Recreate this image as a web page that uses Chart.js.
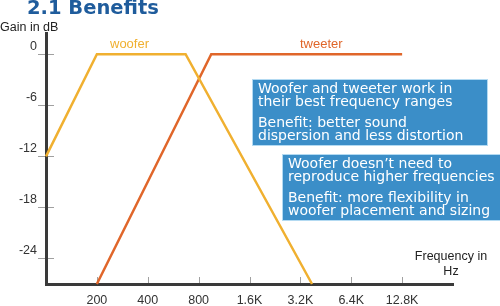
<!DOCTYPE html>
<html>
<head>
<meta charset="utf-8">
<script src="https://cdn.jsdelivr.net/npm/chart.js@4/dist/chart.umd.min.js"></script>
<style>
  html, body { margin: 0; padding: 0; background: #fff; }
  #wrap { position: relative; width: 500px; height: 306px; overflow: hidden; }
  #chart { position: absolute; left: 0; top: 0; }
  .lbl { position: absolute; font-family: "Liberation Sans", Arial, sans-serif; font-size: 12.5px; color: #222; white-space: nowrap; }
  .title { position: absolute; left: 27px; top: -2px; font-family: "DejaVu Sans", Verdana, sans-serif; font-weight: bold; font-size: 19.5px; line-height: 19.5px; color: #1f5c9c; white-space: nowrap; }
  .box { position: absolute; background: #3b8ec8; box-shadow: 0 0 0 1px #b3daf2; color: #fff; font-family: "DejaVu Sans", Verdana, sans-serif; font-size: 14px; line-height: 12.5px; padding: 2px 0 0 5px; box-sizing: border-box; white-space: nowrap; }
  .box p { margin: 0; }
  .box p + p { margin-top: 9px; }
</style>
</head>
<body>
<div id="wrap">
  <canvas id="chart" width="500" height="306"></canvas>
  <div class="title">2.1 Benefits</div>
  <div class="lbl" style="left:0px; top:20px;">Gain in dB</div>
  <div class="lbl" style="left:410px; top:249px; width:82px; text-align:center; line-height:15px;">Frequency in<br>Hz</div>
  <div class="lbl" style="left:110px; top:36px; font-size:13px; color:#f0b030;">woofer</div>
  <div class="lbl" style="left:300px; top:36px; font-size:13px; color:#e0662a;">tweeter</div>
  <div class="box" style="left:253px; top:80px; width:234px; height:65px;">
    <p>Woofer and tweeter work in<br>their best frequency ranges</p>
    <p>Benefit: better sound<br>dispersion and less distortion</p>
  </div>
  <div class="box" style="left:283px; top:155px; width:217px; height:65px;">
    <p>Woofer doesn’t need to<br>reproduce higher frequencies</p>
    <p>Benefit: more flexibility in<br>woofer placement and sizing</p>
  </div>
</div>
<script>
// frequency response points (Hz, dB)
const wooferFreq = [100, 200, 670, 3750];
const wooferGain = [-12, 0, 0, -27];
const tweeterFreq = [200, 950, 12800];
const tweeterGain = [-27, 0, 0];

// axis ticks
const xTickValues = [200, 400, 800, 1600, 3200, 6400, 12800];
const xTickLabels = ['200', '400', '800', '1.6K', '3.2K', '6.4K', '12.8K'];
const yTickValues = [0, -6, -12, -18, -24];

const toPoints = (xs, ys) => xs.map((x, i) => ({ x: x, y: ys[i] }));

// small tick marks crossing the axes
const tickMarks = {
    id: 'tickMarks',
    beforeDraw(chart) {
        const { ctx, chartArea, scales } = chart;
        ctx.save();
        ctx.strokeStyle = '#a0a0a0';
        ctx.lineWidth = 1;
        yTickValues.forEach(v => {
            const y = Math.round(scales.y.getPixelForValue(v)) + 0.5;
            ctx.beginPath();
            ctx.moveTo(chartArea.left - 8, y);
            ctx.lineTo(chartArea.left + 8, y);
            ctx.stroke();
        });
        xTickValues.forEach(v => {
            const x = Math.round(scales.x.getPixelForValue(v)) + 0.5;
            ctx.beginPath();
            ctx.moveTo(x, chartArea.bottom - 7);
            ctx.lineTo(x, chartArea.bottom + 1);
            ctx.stroke();
        });
        ctx.restore();
    }
};

const tickFont = { family: '"Liberation Sans", Arial, sans-serif', size: 12.5 };

new Chart(document.getElementById('chart'), {
    type: 'line',
    data: {
        datasets: [
            {
                label: 'woofer',
                data: toPoints(wooferFreq, wooferGain),
                borderColor: '#f0b030',
                borderWidth: 2.5,
                pointRadius: 0,
                tension: 0,
                clip: 6
            },
            {
                label: 'tweeter',
                data: toPoints(tweeterFreq, tweeterGain),
                borderColor: '#e0662a',
                borderWidth: 2.5,
                pointRadius: 0,
                tension: 0,
                clip: 6
            }
        ]
    },
    options: {
        responsive: false,
        animation: false,
        layout: { padding: { top: 33, right: 47, left: 0, bottom: 0 } },
        plugins: { legend: { display: false }, tooltip: { enabled: false } },
        scales: {
            x: {
                type: 'logarithmic',
                min: 100,
                max: 25600,
                afterBuildTicks: s => { s.ticks = xTickValues.map(v => ({ value: v })); },
                afterFit: s => { s.height = 22; },
                ticks: {
                    callback: (v, i) => xTickLabels[i],
                    color: '#333',
                    font: tickFont,
                    padding: 9.5,
                    maxRotation: 0,
                    autoSkip: false
                },
                grid: { display: false, drawTicks: false },
                border: { display: true, color: '#3a3a3a', width: 3 }
            },
            y: {
                min: -27,
                max: 2.5,
                afterBuildTicks: s => { s.ticks = yTickValues.map(v => ({ value: v })); },
                afterFit: s => { s.width = 46; },
                ticks: {
                    color: '#333',
                    font: tickFont,
                    padding: 9,
                    labelOffset: -8
                },
                grid: { display: false, drawTicks: false },
                border: { display: true, color: '#3a3a3a', width: 3 }
            }
        }
    },
    plugins: [tickMarks]
});
</script>
</body>
</html>
